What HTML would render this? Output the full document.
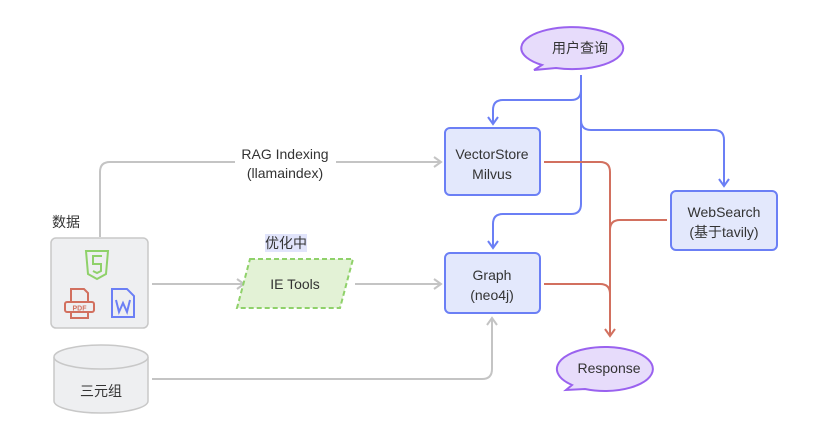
<!DOCTYPE html>
<html><head><meta charset="utf-8"><style>
html,body{margin:0;padding:0;background:#fff;}
svg{display:block;}
text{font-family:"Liberation Sans","Noto Sans CJK SC",sans-serif;font-size:14px;fill:#333;}
</style></head><body>
<svg width="831" height="427" viewBox="0 0 831 427" xmlns="http://www.w3.org/2000/svg">
<defs>
<marker id="ag" markerWidth="10" markerHeight="12" refX="8" refY="6" orient="auto" markerUnits="userSpaceOnUse"><path d="M1,1 L8,6 L1,11" fill="none" stroke="#c4c4c4" stroke-width="2"/></marker>
<marker id="ab" markerWidth="10" markerHeight="12" refX="8" refY="6" orient="auto" markerUnits="userSpaceOnUse"><path d="M1,1 L8,6 L1,11" fill="none" stroke="#6b7ff5" stroke-width="2"/></marker>
<marker id="ar" markerWidth="10" markerHeight="12" refX="8" refY="6" orient="auto" markerUnits="userSpaceOnUse"><path d="M1,1 L8,6 L1,11" fill="none" stroke="#d2705f" stroke-width="2"/></marker>
</defs>
<g fill="none" stroke="#c4c4c4" stroke-width="2">
<path d="M100,237 V172 Q100,162 110,162 H235 M336,162 H441" marker-end="url(#ag)"/>
<path d="M152,284 H244" marker-end="url(#ag)"/>
<path d="M355,284 H441" marker-end="url(#ag)"/>
<path d="M152,379 H482 Q492,379 492,369 V318" marker-end="url(#ag)"/>
</g>
<g fill="none" stroke="#6b7ff5" stroke-width="2">
<path d="M581,75 V90 Q581,100 571,100 H503 Q493,100 493,110 V124" marker-end="url(#ab)"/>
<path d="M581,90 V120 Q581,130 591,130 H714 Q724,130 724,140 V186" marker-end="url(#ab)"/>
<path d="M581,120 V204 Q581,214 571,214 H503 Q493,214 493,224 V248" marker-end="url(#ab)"/>
</g>
<g fill="none" stroke="#d2705f" stroke-width="2">
<path d="M544,162 H600 Q610,162 610,172 V336" marker-end="url(#ar)"/>
<path d="M667,220 H620 Q610,220 610,230"/>
<path d="M544,284 H600 Q610,284 610,294"/>
</g>
<text x="285" y="159" text-anchor="middle">RAG Indexing</text>
<text x="285" y="178" text-anchor="middle">(llamaindex)</text>
<text x="52" y="227">数据</text>
<rect x="51" y="238" width="97" height="90" rx="5" fill="#eeeff1" stroke="#c8c8c8" stroke-width="1.5"/>
<path d="M86,251 H108 L106,274 L97,279 L88,274 Z" fill="none" stroke="#8fd16a" stroke-width="2"/>
<path d="M102,256 H93 V264 H101 V271 L97,273 L93,271" fill="none" stroke="#8fd16a" stroke-width="2"/>
<g fill="none" stroke="#d2705f" stroke-width="2">
<path d="M71,302 V289 H84 L88,293 V302"/>
<rect x="65" y="302" width="29" height="10" rx="2"/>
<path d="M71,312 V318 H88 V312"/>
</g>
<text x="79.5" y="310.5" text-anchor="middle" style="font-size:7px;font-weight:bold;fill:#d2705f">PDF</text>
<path d="M112,289 H127 L134,296 V317 H112 Z" fill="none" stroke="#6b7ff5" stroke-width="2"/>
<path d="M116,300 L119,312 L123,303 L127,312 L130,300" fill="none" stroke="#6b7ff5" stroke-width="2"/>
<rect x="265" y="234" width="42" height="18" fill="#e1e4fb"/>
<text x="286" y="248" text-anchor="middle">优化中</text>
<path d="M250,259 H353 L340,308 H237 Z" fill="#e3f2d6" stroke="#8fd16a" stroke-width="2" stroke-dasharray="5,3"/>
<text x="295" y="289" text-anchor="middle">IE Tools</text>
<path d="M54,357 V401 A47,12 0 0 0 148,401 V357" fill="#eeeff1" stroke="#c8c8c8" stroke-width="1.5"/>
<ellipse cx="101" cy="357" rx="47" ry="12" fill="#eeeff1" stroke="#c8c8c8" stroke-width="1.5"/>
<text x="101" y="396" text-anchor="middle">三元组</text>
<rect x="445" y="128" width="95" height="67" rx="5" fill="#e3e8fc" stroke="#6b7ff5" stroke-width="2"/>
<text x="492" y="159" text-anchor="middle">VectorStore</text>
<text x="492" y="179" text-anchor="middle">Milvus</text>
<rect x="445" y="253" width="95" height="60" rx="5" fill="#e3e8fc" stroke="#6b7ff5" stroke-width="2"/>
<text x="492" y="280" text-anchor="middle">Graph</text>
<text x="492" y="300" text-anchor="middle">(neo4j)</text>
<rect x="671" y="191" width="106" height="59" rx="5" fill="#e3e8fc" stroke="#6b7ff5" stroke-width="2"/>
<text x="724" y="217" text-anchor="middle">WebSearch</text>
<text x="724" y="237" text-anchor="middle">(基于tavily)</text>
<path d="M542,65 A51,21 0 1 1 556,68 L534,70 Z" fill="#e7dcfb" stroke="#9a62ef" stroke-width="2"/>
<text x="580" y="53" text-anchor="middle">用户查询</text>
<path d="M572,385 A48,22 0 1 1 585,389 L566,390 Z" fill="#e7dcfb" stroke="#9a62ef" stroke-width="2"/>
<text x="609" y="373" text-anchor="middle">Response</text>
</svg>
</body></html>
